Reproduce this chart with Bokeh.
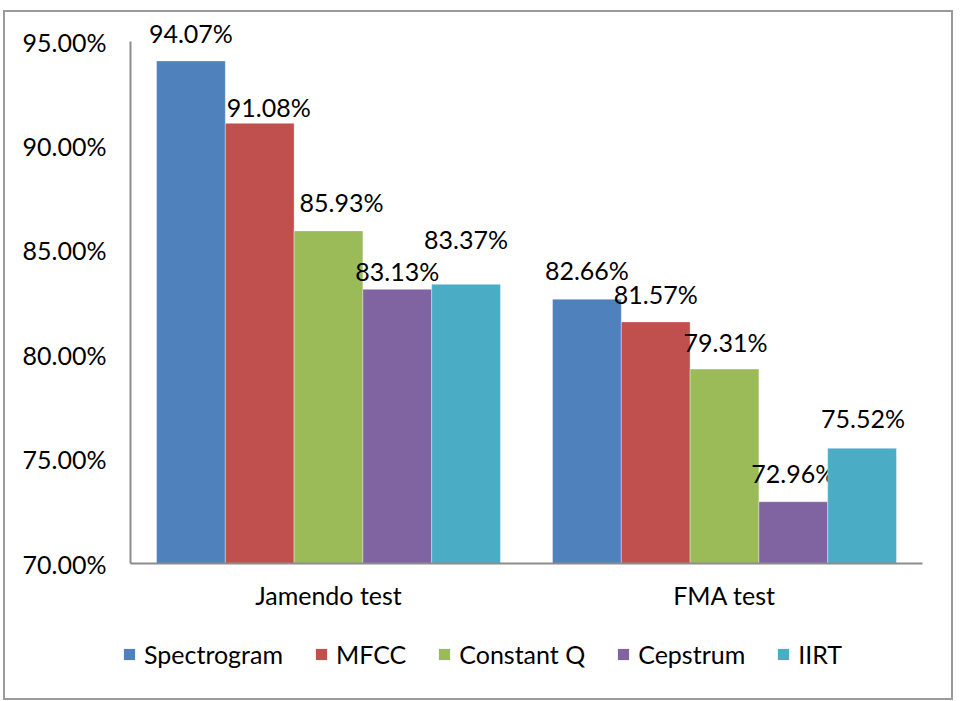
from bokeh.plotting import figure
from bokeh.layouts import column
from bokeh.models import (ColumnDataSource, FactorRange, Range1d, Legend, LegendItem,
                          FixedTicker, CustomJSTickFormatter)
from bokeh.transform import dodge
from bokeh.embed import file_html
from bokeh.resources import INLINE
from bokeh.core.properties import value

groups = ["Jamendo test", "FMA test"]
series = ["Spectrogram", "MFCC", "Constant Q", "Cepstrum", "IIRT"]
spectrogram = [94.07, 82.66]
mfcc = [91.08, 81.57]
constant_q = [85.93, 79.31]
cepstrum = [83.13, 72.96]
iirt = [83.37, 75.52]
y_ticks = [70, 75, 80, 85, 90, 95]

colors = ["#4F81BD", "#C0504D", "#9BBB59", "#8064A2", "#4BACC6"]
# label offsets (screen px, up is negative) as placed in the original figure
label_dx = [[0, 0], [9, 0], [13, 1], [0, 0], [0, 1]]
label_dy = [[-28, -29], [-16, -28], [-29, -27], [-18, -29], [-45, -30]]

FONT = "Lato"
FS = "25px"
values = [spectrogram, mfcc, constant_q, cepstrum, iirt]

W = 946
p = figure(x_range=FactorRange(*groups, range_padding=0),
           y_range=Range1d(70, 96.39),
           width=W, height=600, output_backend="svg", toolbar_location=None,
           min_border_left=125, min_border_top=0, min_border_right=29, min_border_bottom=49)
p.frame_align = False
p.outline_line_color = None
p.xgrid.grid_line_color = None
p.ygrid.grid_line_color = None

bw = 0.1737
offsets = [-2 * bw, -bw, 0, bw, 2 * bw]
for i, (name, vals) in enumerate(zip(series, values)):
    src = ColumnDataSource(dict(g=groups, v=vals, bottom=[70] * len(vals),
                                lbl=["%.2f%%" % v for v in vals],
                                dx=label_dx[i], dy=label_dy[i]))
    p.vbar(x=dodge("g", offsets[i], range=p.x_range), top="v", bottom="bottom", width=bw,
           source=src, fill_color=colors[i], line_color="#ffffff", line_alpha=0.35, line_width=1)
    p.text(x=dodge("g", offsets[i], range=p.x_range), y="v", text="lbl", source=src,
           x_offset="dx", y_offset="dy", text_align="center", text_baseline="middle",
           text_font=value(FONT), text_font_size=FS, text_color="#000000")

p.yaxis.ticker = FixedTicker(ticks=y_ticks)
p.yaxis.bounds = (70, 95)
p.yaxis.formatter = CustomJSTickFormatter(code="return tick.toFixed(2) + '%';")
for ax in (p.xaxis, p.yaxis):
    ax.major_tick_line_color = None
    ax.minor_tick_line_color = None
    ax.axis_line_color = "#8c8c8c"
    ax.axis_line_width = 2
    ax.major_label_text_font = FONT
    ax.major_label_text_font_size = FS
    ax.major_label_text_color = "#000000"
p.yaxis.major_label_standoff = 18
p.xaxis.major_label_standoff = 10

# legend strip
leg = figure(x_range=Range1d(0, 1), y_range=Range1d(0, 1), width=W, height=86,
             output_backend="svg", toolbar_location=None, min_border=0,
             x_axis_location=None, y_axis_location=None)
leg.frame_align = False
leg.xgrid.grid_line_color = None
leg.ygrid.grid_line_color = None
leg.outline_line_color = None
items = []
for name, c in zip(series, colors):
    r = leg.rect(x=[-5], y=[-5], width=[0.1], height=[0.1], fill_color=c, line_color=None)
    items.append(LegendItem(label=name, renderers=[r]))
legend = Legend(items=items, orientation="horizontal", location=(117, 29),
                label_text_font=FONT, label_text_font_size=FS, label_text_color="#000000",
                glyph_width=14, glyph_height=14, label_standoff=8, spacing=31,
                padding=4, margin=0, border_line_color=None, background_fill_alpha=0)
leg.add_layout(legend, "center")

lay = column(p, leg, spacing=0)
lay.styles = {"border": "2px solid #9a9a9a", "margin-left": "3px", "margin-top": "10px"}

open("out.html", "w").write(file_html(lay, INLINE))
